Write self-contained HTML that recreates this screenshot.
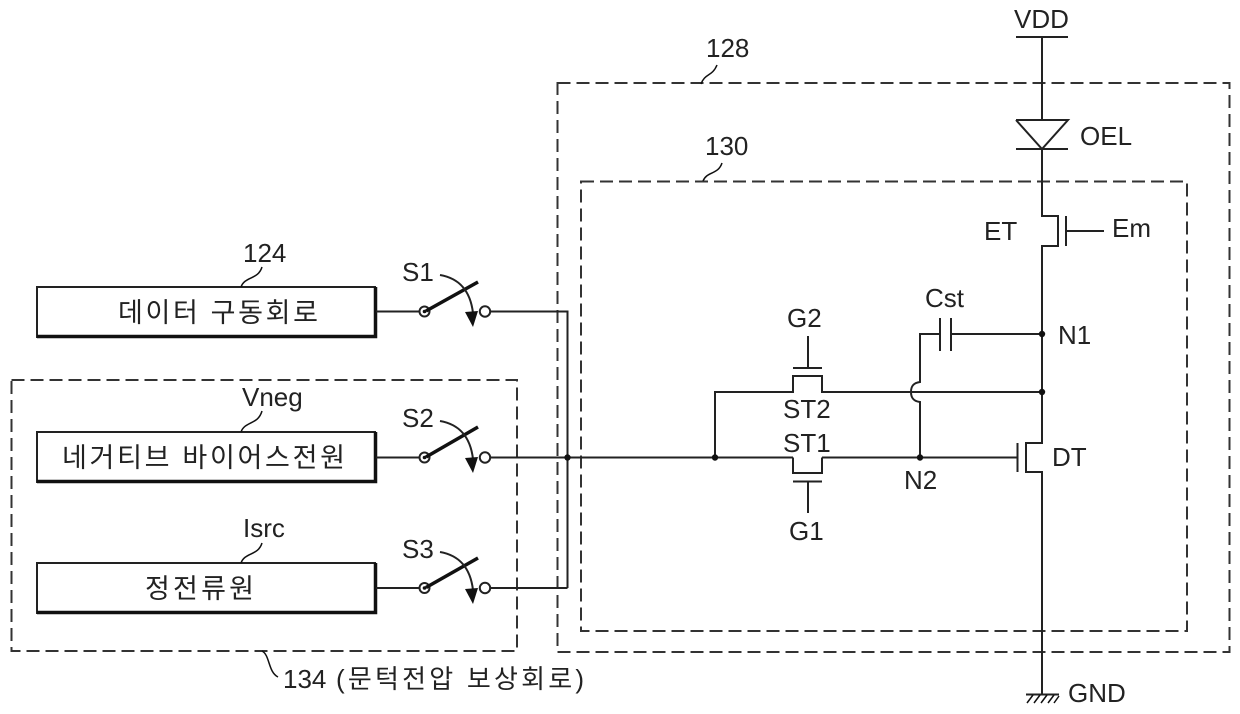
<!DOCTYPE html>
<html><head><meta charset="utf-8">
<style>
html,body{margin:0;padding:0;background:#fff}
svg{display:block}
text{font-family:"Liberation Sans","Noto Sans CJK KR",sans-serif;font-size:26px;fill:#222}
.k{font-size:27px}
.l{fill:none;stroke:#222;stroke-width:2}
.d{fill:none;stroke:#333;stroke-width:2;stroke-dasharray:13 6}
.t{fill:none;stroke:#111;stroke-width:1.5}
</style></head><body>
<svg width="1240" height="714" viewBox="0 0 1240 714" xmlns="http://www.w3.org/2000/svg">
<!-- dashed regions -->
<rect class="d" x="557.5" y="83" width="672" height="569"/>
<rect class="d" x="581" y="181.500" width="606" height="449.500"/>
<rect class="d" x="11.500" y="380" width="505.500" height="271"/>

<!-- boxes -->
<g>
<rect x="37" y="287" width="338" height="50" fill="#fff" stroke="#222" stroke-width="2"/>
<path d="M37 336.500H375.500V287" fill="none" stroke="#111" stroke-width="3.500"/>
<rect x="37" y="432" width="338" height="50" fill="#fff" stroke="#222" stroke-width="2"/>
<path d="M37 481.500H375.500V432" fill="none" stroke="#111" stroke-width="3.500"/>
<rect x="37" y="563" width="338" height="50" fill="#fff" stroke="#222" stroke-width="2"/>
<path d="M37 612.500H375.500V563" fill="none" stroke="#111" stroke-width="3.500"/>
</g>

<!-- switch wires -->
<path class="l" d="M376 311.500H419M491 311.500H567.500V588M491 588H567.500"/>
<path class="l" d="M376 457.500H419M491 457.500H793M376 588H419"/>
<g>
<circle class="l" cx="424.500" cy="311.500" r="5"/><circle cx="424.500" cy="311.500" r="1.800" fill="#111"/>
<circle class="l" cx="485" cy="311.500" r="5.200"/>
<path d="M426 311L478 282" fill="none" stroke="#111" stroke-width="3.500"/>
<path class="l" d="M440 275C457 278 470 288 473 313"/>
<path d="M465 312L478 311L473 327Z" fill="#111"/>
</g>
<g>
<circle class="l" cx="424.500" cy="457.500" r="5"/><circle cx="424.500" cy="457.500" r="1.800" fill="#111"/>
<circle class="l" cx="485" cy="457.500" r="5.200"/>
<path d="M426 457L478 427" fill="none" stroke="#111" stroke-width="3.500"/>
<path class="l" d="M440 421C457 424 470 434 473 459"/>
<path d="M465 458L478 457L473 473Z" fill="#111"/>
</g>
<g>
<circle class="l" cx="424.500" cy="588" r="5"/><circle cx="424.500" cy="588" r="1.800" fill="#111"/>
<circle class="l" cx="485" cy="588" r="5.200"/>
<path d="M426 587.500L478 558" fill="none" stroke="#111" stroke-width="3.500"/>
<path class="l" d="M440 552C457 555 470 565 473 590"/>
<path d="M465 589L478 588L473 604Z" fill="#111"/>
</g>
<circle cx="567.500" cy="457.500" r="3.200" fill="#111"/>

<!-- main vertical -->
<path class="l" d="M1016 37H1068M1042 37V120M1016 120H1068L1042 149L1016 120M1016 149H1068M1042 149V216H1058V246H1042V443H1026V472H1042V694"/>
<path class="l" d="M1066 216V246M1066 231H1104"/>
<path class="l" d="M1017.500 443V472M822 457.500H1017.500"/>

<!-- ST1 / ST2 -->
<path class="l" d="M793 457.500V473H822V457.500"/>
<path class="l" d="M793 481.500H822M808 481.500V513"/>
<path class="l" d="M715 457.500V392H793V376H822V392H911M929 392H1042M911 392H929"/>
<path class="l" d="M793 368H822M808 368V336"/>

<!-- hop and cap -->
<path class="l" d="M920 457.500V402C912 401 911 396 911 392C911 388 912 383 920 382V334H940M940 318V351M951 318V351M951 334H1042"/>

<circle cx="715" cy="457.500" r="3.200" fill="#111"/>
<circle cx="920" cy="457.500" r="3.200" fill="#111"/>
<circle cx="1042" cy="334" r="3.200" fill="#111"/>
<circle cx="1042" cy="392" r="3.200" fill="#111"/>

<!-- ground -->
<path class="l" d="M1026 694.500H1059"/>
<path class="t" d="M1033 695L1027 703M1040 695L1034 703M1047 695L1041 703M1054 695L1048 703M1059 696L1054 703"/>

<!-- leaders -->
<path class="t" d="M241 287C245 276 258 280 262 267"/>
<path class="t" d="M241 432C245 421 258 425 262 411"/>
<path class="t" d="M241 563C245 552 258 556 262 543"/>
<path class="t" d="M701 84C705 73 712 77 717 65"/>
<path class="t" d="M703 181C707 171 718 175 722 163"/>
<path class="t" d="M262 651C270 655 268 672 278 677"/>

<!-- labels -->
<text x="1014" y="28">VDD</text>
<text x="1080" y="145">OEL</text>
<text x="984" y="240">ET</text>
<text x="1112" y="237">Em</text>
<text x="925" y="307">Cst</text>
<text x="1058" y="344">N1</text>
<text x="787" y="327">G2</text>
<text x="783" y="418">ST2</text>
<text x="783" y="452">ST1</text>
<text x="904" y="489">N2</text>
<text x="789" y="540">G1</text>
<text x="1052" y="466">DT</text>
<text x="1068" y="702">GND</text>
<text x="706" y="57">128</text>
<text x="705" y="155">130</text>
<text x="243" y="262">124</text>
<text x="242" y="406">Vneg</text>
<text x="243" y="537">Isrc</text>
<text x="402" y="281">S1</text>
<text x="402" y="427">S2</text>
<text x="402" y="558">S3</text>
<text class="k" x="118" y="322" textLength="200">데이터 구동회로</text>
<text class="k" x="62" y="467" textLength="283">네거티브 바이어스전원</text>
<text class="k" x="145" y="598" textLength="109">정전류원</text>
<text x="283" y="688">134</text>
<text x="336" y="688" textLength="248">(문턱전압 보상회로)</text>
</svg>
</body></html>
